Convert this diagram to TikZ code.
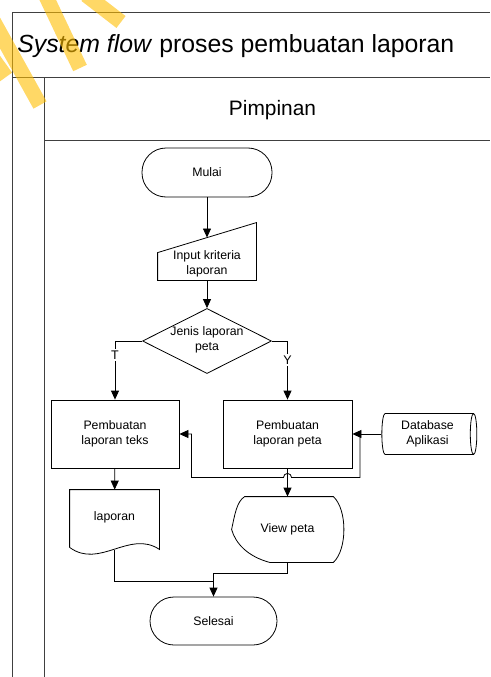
\documentclass[tikz,border=0pt]{standalone}
\usepackage{fontspec}
\setmainfont{Liberation Sans}
\usepackage{tikz}
\usetikzlibrary{shapes.geometric, arrows.meta, positioning, calc}
\definecolor{stabilo}{RGB}{255,190,0}

\begin{document}
\begin{tikzpicture}[x=1pt, y=1pt, line width=0.8pt,
    lbl/.style={font=\fontsize{12.3}{14.7}\selectfont, align=center, inner sep=0pt},
    term/.style={draw, rounded corners=24pt, minimum width=128pt, minimum height=49pt, lbl},
    proc/.style={draw, rectangle, minimum width=128pt, minimum height=68pt, lbl},
    frame/.style={draw=black!75, line width=1pt},
    arr/.style={-{Triangle[length=9pt,width=8pt]}},
    yt/.style={lbl, fill=white, inner sep=1.5pt, font=\fontsize{12.5}{14}\selectfont},
    wmark/.style={draw=stabilo, line width=15pt, draw opacity=0.6}]
  \useasboundingbox (0,0) rectangle (490,-677);
  \fill[white] (0,0) rectangle (490,-677);

  % swimlane frame
  \draw[frame] (12,-677) -- (12,-13) -- (490,-13);
  \draw[frame] (12,-77) -- (490,-77);
  \draw[frame] (44,-677) -- (44,-77);
  \draw[frame] (44,-140) -- (490,-140);
  \node[anchor=base west, inner sep=0pt, font=\fontsize{24.8}{29}\selectfont] (judul) at (17,-52.5)
    {\textit{System flow} proses pembuatan laporan};
  \node[anchor=base, inner sep=0pt, font=\fontsize{20.9}{25}\selectfont] (lajur) at (272.5,-115) {Pimpinan};

  % symbols
  \node[term, minimum width=130pt] (mulai) at (207,-172.5) {Mulai};
  \node[minimum width=98pt, minimum height=57pt, inner sep=0pt] (input) at (207,-251.5) {};
  \draw (input.south west) -- (input.south east) -- (input.north east) -- ($(input.north west)+(0,-30)$) -- cycle;
  \node[lbl] (inputlbl) at (207,-263.5) {Input kriteria\\laporan};
  \coordinate (inputtop) at (207,-237.5);
  \node[draw, diamond, aspect=2, minimum width=129pt, minimum height=65pt, inner sep=0pt] (jenis) at (207,-341) {};
  \node[lbl] (jenislbl) at (207,-340) {Jenis laporan\\peta};
  \node[proc] (teks) at (115,-434) {Pembuatan\\laporan teks};
  \node[proc, minimum width=129pt] (peta) at (287.5,-434) {Pembuatan\\laporan peta};
  \node[draw, cylinder, aspect=0.25, minimum width=41pt, minimum height=95pt, lbl] (db) at (427.5,-434) {Database\\Aplikasi};

  \node[minimum width=89pt, minimum height=60pt, inner sep=0pt] (lap) at (114.5,-520) {};
  \draw ($(lap.south west)+(0,3)$) -- (lap.north west) -- (lap.north east) -- ($(lap.south east)+(0,1)$)
    .. controls +(-30,20) and +(30,-22) .. ($(lap.south west)+(0,3)$);
  \node[lbl] (laplbl) at (114.5,-517) {laporan};

  \node[minimum width=111pt, minimum height=65pt, inner sep=0pt, lbl] (view) at (287.5,-529.5) {View peta};
  \coordinate (viewtl) at ($(view.north west)+(13,0)$);
  \draw (viewtl) -- ($(view.north east)+(-10,0)$)
    .. controls +(14,-13) and +(14,13) .. ($(view.south east)+(-10,0)$)
    -- ($(view.south west)+(38,0)$)
    .. controls +(-22,6) and +(4,-14) .. (view.west)
    .. controls +(3,14) and +(-8,-5) .. (viewtl) -- cycle;

  \node[term, minimum width=127pt, minimum height=48pt] (selesai) at (213.5,-621) {Selesai};

  % connectors
  \coordinate (split) at (360,-434);
  \coordinate (hop) at ($(peta.south)+(4,-9)$);
  \coordinate (join) at (213.5,-581);
  \draw[arr] (mulai) -- (inputtop);
  \draw[arr] (input) -- (jenis);
  \draw[arr] (jenis.west) -| node[yt, pos=0.62] (t) {T} (teks.north);
  \draw[arr] (jenis.east) -| node[yt, pos=0.66] (y) {Y} (peta.north);
  \draw[arr] (db.west) -- (peta.east);
  \draw[arr] (split) |- (hop) arc[start angle=0, end angle=180, radius=4] -| ($(teks.east)+(12,0)$) -- (teks.east);
  \draw[arr] (peta) -- (view);
  \draw[arr] (teks) -- (lap);
  \draw (lap.south) |- (join);
  \draw[arr] (view.south) -- ++(0,-11) -| (selesai.north);

  % watermark
  \begin{scope}
    \clip (0,0) rectangle (490,-677);
    \foreach \xa/\ya/\xb/\yb in {-10/-15/40/-105, -22/-38/6/-77, 44/8/80/-68, 86/5/121/-22}
      \draw[wmark] (\xa,\ya) -- (\xb,\yb);
  \end{scope}
\end{tikzpicture}
\end{document}
